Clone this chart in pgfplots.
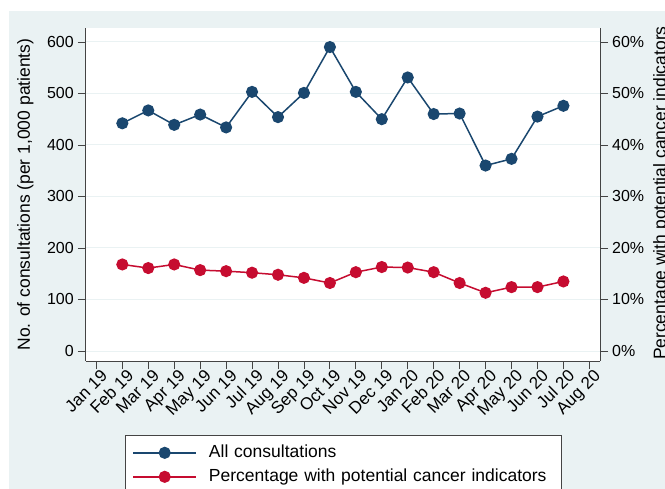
\documentclass[border=0pt]{standalone}
\usepackage{pgfplots}
\pgfplotsset{compat=1.18}
\usepackage{fontspec}
\setmainfont{Liberation Sans}
\definecolor{bgc}{HTML}{EAF2F3}
\definecolor{navy}{HTML}{1A476F}
\definecolor{crim}{HTML}{C60C30}
\definecolor{axc}{HTML}{444444}
\pgfplotstableread{
x cons pct
1 442 16.8
2 467 16.1
3 439 16.8
4 459 15.7
5 434 15.5
6 503 15.2
7 454 14.8
8 501 14.2
9 590 13.2
10 503 15.3
11 450 16.3
12 531 16.2
13 460 15.3
14 461 13.2
15 360 11.3
16 373 12.4
17 455 12.4
18 476 13.5
}\datatable
\begin{document}
\begin{tikzpicture}[x=1pt,y=1pt]
\useasboundingbox (0,0) rectangle (665,-489);
\clip (0,0) rectangle (665,-489);
\fill[white] (0,0) rectangle (665,-489);
\fill[bgc] (9,-11) rectangle (670,-495);
\pgfplotsset{
  every axis/.append style={
    scale only axis, width=514pt, height=333pt,
    at={(86pt,-361pt)}, anchor=south west,
    xmin=-0.4, xmax=19.41,
    tick align=outside, major tick length=8pt,
    every tick/.style={axc, line width=0.8pt},
    axis line style={axc, line width=1pt},
    tick label style={font=\fontsize{16}{18}\selectfont},
    label style={font=\fontsize{17.5}{20}\selectfont},
    /pgf/number format/assume math mode=true,
  },
}
\begin{axis}[
  axis x line*=bottom, axis y line*=left,
  axis background/.style={fill=white},
  ymin=-19.4, ymax=627,
  ytick={0,100,...,600},
  ymajorgrids, major grid style={bgc, line width=1pt},
  xtick={0,...,19},
  xticklabels={Jan 19,Feb 19,Mar 19,Apr 19,May 19,Jun 19,Jul 19,Aug 19,Sep 19,Oct 19,Nov 19,Dec 19,Jan 20,Feb 20,Mar 20,Apr 20,May 20,Jun 20,Jul 20,Aug 20},
  xticklabel style={rotate=45, anchor=north east, inner sep=1pt, xshift=4pt, yshift=-1pt, font=\fontsize{17}{19}\selectfont},
  yticklabel style={inner sep=1pt, xshift=-3pt},
  ylabel={No. of consultations (per 1,000 patients)},
  ylabel style={at={(axis description cs:-0.118,0.5)}, anchor=center},
  legend style={at={(axis description cs:0.076,-0.222)}, anchor=north west,
    draw=axc, line width=0.8pt, fill=white, inner xsep=7pt, inner ysep=9pt,
    font=\fontsize{17.5}{20}\selectfont, row sep=7pt, column sep=12pt,
    nodes={inner xsep=0pt, inner ysep=0pt, text height=13pt, text depth=4pt},
    /tikz/column 2/.style={text width=345pt}},
  legend cell align=left,
  legend image code/.code={\draw[mark repeat=2,mark phase=2,#1] plot coordinates {(0pt,0pt)(31.5pt,0pt)(63pt,0pt)};},
]
\addplot[navy, line width=1.5pt, mark=*, mark size=5.3pt, mark options={fill=navy, draw=navy}] table[x=x, y=cons] {\datatable};
\addlegendentry{All consultations}
\addlegendimage{crim, line width=1.5pt, mark=*, mark size=5.3pt, mark options={fill=crim, draw=crim}}
\addlegendentry{Percentage with potential cancer indicators}
\end{axis}
\begin{axis}[
  axis x line=none, axis y line*=right,
  ymin=-1.94, ymax=62.7,
  ytick={0,10,...,60},
  yticklabel={\pgfmathprintnumber{\tick}\%},
  yticklabel style={inner sep=1pt, xshift=3pt},
  ylabel={Percentage with potential cancer indicators},
  ylabel style={at={(axis description cs:1.1196,0.504)}, anchor=center},
]
\addplot[crim, line width=1.5pt, mark=*, mark size=5.3pt, mark options={fill=crim, draw=crim}] table[x=x, y=pct] {\datatable};
\end{axis}
\end{tikzpicture}
\end{document}
